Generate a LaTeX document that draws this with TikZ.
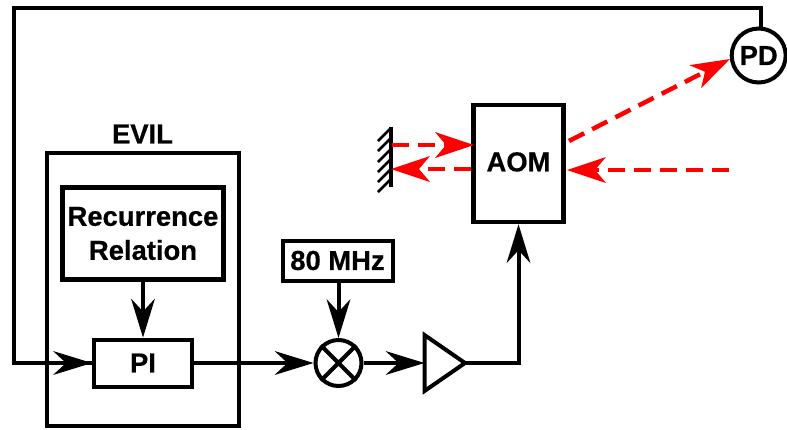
\documentclass[tikz,border=0pt]{standalone}
\usepackage{fontspec}
\setmainfont[BoldFeatures={FakeBold=0.6}]{Liberation Sans}
\usetikzlibrary{arrows.meta,calc}
\tikzset{
  lab/.style={font=\fontsize{27.4}{34}\selectfont\bfseries,align=center,inner sep=0pt},
  boxn/.style={draw=black,line width=#1,rectangle,inner sep=0pt,lab,line join=miter},
  boxn/.default=4pt,
  wire/.style={draw=black,line width=4pt,line join=miter},
  sig/.style={wire,-{Stealth[length=39pt,width=24pt,inset=13pt,line width=0pt]}},
  beam/.style={draw=red,line width=4.5pt,dash pattern=on 17pt off 9pt,-{Stealth[length=39pt,width=26pt,inset=11pt,line width=0pt]}},
  circn/.style={draw=black,line width=4pt,circle,inner sep=0pt,lab}
}
\begin{document}
\begin{tikzpicture}[x=1pt,y=-1pt]
\useasboundingbox (0,0) rectangle (787,429);
\fill[white] (0,0) rectangle (787,429);
% boxes
\node[boxn=4pt,minimum width=192pt,minimum height=273pt] (evil) at (143.25,289.5) {};
\node[lab] (evillab) at (142.5,134) {EVIL};
\node[boxn=4.5pt,minimum width=161pt,minimum height=92pt] (rr) at (143,233.5) {Recurrence\\Relation};
\node[boxn=4pt,minimum width=98pt,minimum height=47pt] (pi) at (143,363) {PI};
\node[boxn=4pt,minimum width=110pt,minimum height=40pt] (mhz) at (337.5,260.5) {80 MHz};
\node[boxn=4.5pt,minimum width=90pt,minimum height=117pt] (aom) at (518.5,163.5) {\raisebox{3.5pt}{AOM}};
\node[circn,minimum size=54pt] (pd) at (758.7,55.5) {PD};
\node[circn,minimum size=46pt] (mix) at (338.5,363) {};
\draw[line width=4pt] (mix.45) -- (mix.225) (mix.135) -- (mix.315);
% amplifier
\coordinate (ampin) at (424.5,363);
\coordinate (ampout) at (465,363);
\draw[wire,line join=miter] (424.5,335) -- (424.5,391) -- (ampout) -- cycle;
% mirror
\coordinate (mirtop) at (391,127);
\coordinate (mirbot) at (391,187);
\draw[line width=4pt] (mirtop) -- (mirbot);
\foreach \yy in {128,138,149,159,169,179}
  \draw[line width=2.5pt] (391,\yy) -- ++(-13,13);
% black connectors
\coordinate (fbcorner) at (13.5,8);
\draw[wire] (pd.north -| 761,0) |- (fbcorner) -- (13.5,363) -- (pi.west);
\draw[sig] (13.5,363) -- (pi.west);
\draw[sig] (rr.south) -- (pi.north);
\draw[sig] (pi.east) -- (mix.west);
\draw[sig] (mhz.south -| mix.north) -- (mix.north);
\draw[sig] (mix.east) -- (ampin);
\draw[sig] (ampout) -| (aom.south);
% red beams
\coordinate (mirin) at (392,145);
\coordinate (aomtl) at (474,145);
\coordinate (aombl) at (471,169);
\coordinate (mirout) at (391,169);
\coordinate (src) at (729,170);
\coordinate (aomr) at (567,170);
\coordinate (aomo) at (569,141);
\draw[beam] (mirin) -- (aomtl);
\draw[beam] (aombl) -- (mirout);
\draw[beam] (src) -- (aomr);
\draw[beam] (aomo) -- (pd.187);
\end{tikzpicture}
\end{document}
